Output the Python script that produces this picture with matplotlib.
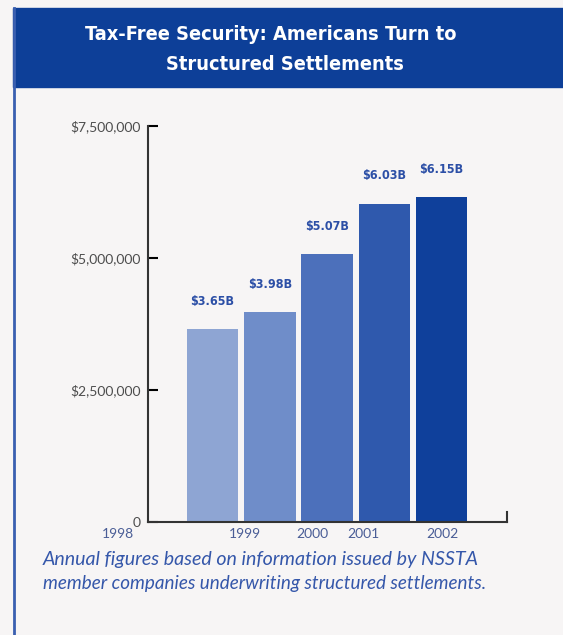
import matplotlib.pyplot as plt
from matplotlib.patches import Rectangle
from matplotlib.lines import Line2D

# Data
years = ['1998', '1999', '2000', '2001', '2002']
values = [3.65e6, 3.98e6, 5.07e6, 6.03e6, 6.15e6]
value_labels = ['$3.65B', '$3.98B', '$5.07B', '$6.03B', '$6.15B']
ytick_values = [0, 2.5e6, 5e6, 7.5e6]
ytick_labels = ['0', '$2,500,000', '$5,000,000', '$7,500,000']

# the year labels in the original sit off-centre from the bars
year_pos = [-1.65, 0.57, 1.74, 2.63, 4.02]

bar_colors = ['#8ea5d3', '#6f8dc9', '#4c70bb', '#2f59ad', '#0f409b']
band_color = '#0d3f98'
text_blue = '#2c4fa6'
bg = '#f7f5f5'

fig = plt.figure(figsize=(5.63, 6.35), dpi=100, facecolor=bg)

# title band and left frame line
fig.patches.append(Rectangle((13 / 563, 1 - 87 / 635), 1, 79 / 635,
                             transform=fig.transFigure, color=band_color, zorder=0))
fig.lines.append(Line2D([14 / 563, 14 / 563], [0, 1 - 8 / 635],
                        transform=fig.transFigure, color='#3a5fb0', lw=2))
fig.text(271 / 563, 1 - 35 / 635, 'Tax-Free Security: Americans Turn to',
         ha='center', va='center', color='white', fontsize=14.3,
         family='DejaVu Sans', fontstretch='condensed', fontweight='bold')
fig.text(285 / 563, 1 - 64 / 635, 'Structured Settlements',
         ha='center', va='center', color='white', fontsize=14.3,
         family='DejaVu Sans', fontstretch='condensed', fontweight='bold')

ax = fig.add_axes([148 / 563, 1 - 522 / 635, 359 / 563, 396 / 635])
ax.set_facecolor('none')

x = range(len(values))
bars = ax.bar(x, values, width=0.9, color=bar_colors)
for b, lab in zip(bars, value_labels):
    ax.text(b.get_x() + b.get_width() / 2, b.get_height() + 4e5, lab,
            ha='center', va='bottom', color=text_blue, fontsize=9,
            family='DejaVu Sans', fontstretch='condensed', fontweight='bold')

ax.set_xlim(-1.125, 5.14)
ax.set_ylim(0, 7.5e6)
ax.set_yticks(ytick_values)
ax.set_yticklabels(ytick_labels, family='Lato', fontsize=10, color='#4d4d4d')
ax.tick_params(axis='y', direction='in', length=7, width=1.5, pad=5)
ax.set_xticks([])

for yr, p in zip(years, year_pos):
    ax.text(p, -0.03, yr, transform=ax.get_xaxis_transform(), ha='center', va='center',
            fontsize=10, family='Lato', color='#4a5d96', clip_on=False)

for s in ['top', 'right']:
    ax.spines[s].set_visible(False)
for s in ['left', 'bottom']:
    ax.spines[s].set_color('#333333')
    ax.spines[s].set_linewidth(1.5)
ax.plot([1, 1], [0, 0.025], transform=ax.transAxes, color='#333333', lw=1.5,
        clip_on=False)

fig.text(43 / 563, 1 - 560 / 635, 'Annual figures based on information issued by NSSTA',
         ha='left', va='center', fontsize=14.1, family='Lato', style='italic', color='#3557aa')
fig.text(43 / 563, 1 - 583 / 635, 'member companies underwriting structured settlements.',
         ha='left', va='center', fontsize=13.6, family='Lato', style='italic', color='#3557aa')

plt.savefig('out.png', dpi=100, facecolor=bg)
